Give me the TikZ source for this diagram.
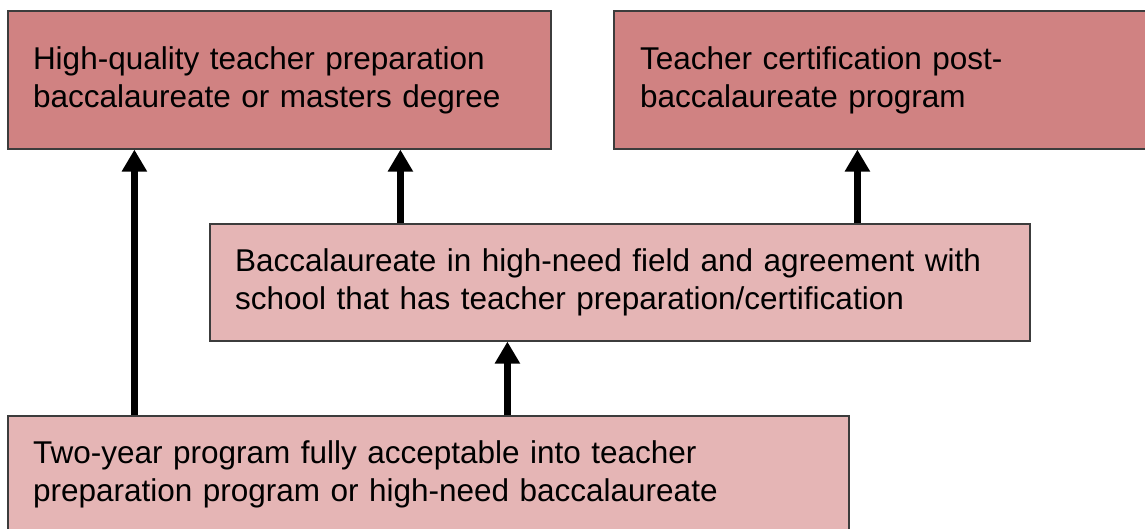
\documentclass[tikz,border=0pt]{standalone}
\usepackage{fontspec}
\setmainfont{Liberation Sans}
\usetikzlibrary{arrows.meta}
\definecolor{topfill}{RGB}{208,130,130}
\definecolor{lowfill}{RGB}{229,181,181}
\definecolor{edge}{RGB}{60,60,60}
\tikzset{
  box/.style={draw=edge, line width=1.2pt, rectangle, inner xsep=25pt, inner ysep=0pt,
    align=left, font=\fontsize{31.5}{38}\selectfont},
  topbox/.style={box, fill=topfill, text width=493pt, minimum height=138pt},
  arr/.style={line width=7pt, -{Triangle[length=22pt,width=24pt]}}
}
\begin{document}
\begin{tikzpicture}[x=1pt,y=-1pt]
\useasboundingbox (0,0) rectangle (1145,529);
\clip (0,0) rectangle (1145,529);
\node[topbox] (tl) at (279.5,80) {High-quality teacher preparation\\baccalaureate or masters degree};
\node[topbox, inner xsep=26pt, text width=491pt] (tr) at (885.5,80) {Teacher certification post-\\baccalaureate program};
\node[box, fill=lowfill, text width=770pt, minimum height=117pt] (mid) at (620,282.5) {Baccalaureate in high-need field and agreement with\\school that has teacher preparation/certification};
\node[box, fill=lowfill, text width=791pt, minimum height=117pt] (bot) at (428.5,474.5) {Two-year program fully acceptable into teacher\\preparation program or high-need baccalaureate};
\draw[arr] ([xshift=127pt]bot.north west) -- ([xshift=127pt]tl.south west);
\draw[arr] ([xshift=191pt]mid.north west) -- ([xshift=393pt]tl.south west);
\draw[arr] ([xshift=648pt]mid.north west) -- ([xshift=244pt]tr.south west);
\draw[arr] ([xshift=500pt]bot.north west) -- ([xshift=298pt]mid.south west);
\end{tikzpicture}
\end{document}
